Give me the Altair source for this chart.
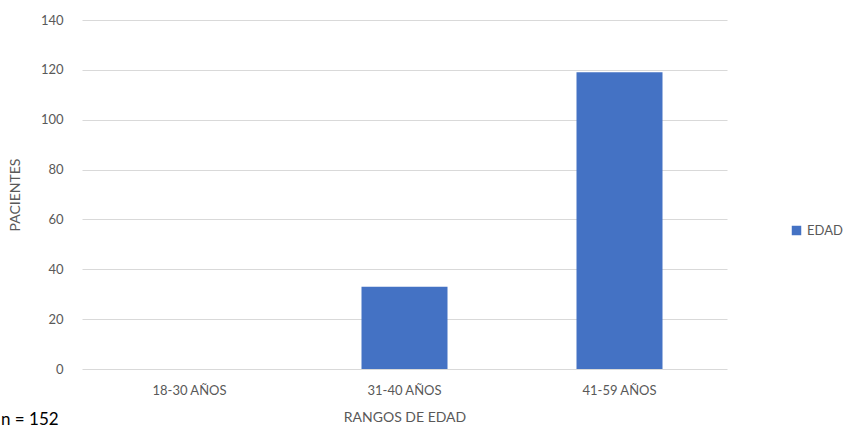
import altair as alt
import pandas as pd

categorias = ["18-30 AÑOS", "31-40 AÑOS", "41-59 AÑOS"]
pacientes = [0, 33, 119]
serie = ["EDAD", "EDAD", "EDAD"]
y_ticks = [0, 20, 40, 60, 80, 100, 120, 140]
nota = ["n = 152"]

df = pd.DataFrame({"rango": categorias, "pacientes": pacientes, "serie": serie})

FONT = "Lato"
GRAY = "#595959"

bars = alt.Chart(df).mark_bar(color="#4472C4").encode(
    x=alt.X(
        "rango:N",
        sort=categorias,
        scale=alt.Scale(paddingInner=0.6, paddingOuter=0.3),
        axis=alt.Axis(
            title="RANGOS DE EDAD",
            labelAngle=0,
            domain=False,
            ticks=False,
            grid=False,
            labelPadding=15,
            labelFontSize=13,
            labelColor=GRAY,
            labelFont=FONT,
            titleFont=FONT,
            titleFontSize=14,
            titleFontWeight="normal",
            titleColor=GRAY,
            titlePadding=13,
        ),
    ),
    y=alt.Y(
        "pacientes:Q",
        scale=alt.Scale(domain=[0, 140]),
        axis=alt.Axis(
            title="PACIENTES",
            values=y_ticks,
            domain=False,
            ticks=False,
            labelPadding=19,
            labelFontSize=13,
            labelColor=GRAY,
            labelFont=FONT,
            gridColor="#d9d9d9",
            titleFont=FONT,
            titleFontSize=14,
            titleFontWeight="normal",
            titleColor=GRAY,
            titlePadding=18,
        ),
    ),
    color=alt.Color(
        "serie:N",
        scale=alt.Scale(range=["#4472C4"]),
        legend=alt.Legend(
            title=None,
            orient="none",
            legendX=708,
            legendY=204,
            symbolType="square",
            symbolSize=90,
            labelFont=FONT,
            labelFontSize=13,
            labelColor=GRAY,
        ),
    ),
)

txt = alt.Chart(pd.DataFrame({"t": nota})).mark_text(
    align="left", baseline="top", font=FONT, fontSize=17, color="#000000"
).encode(text="t:N", x=alt.value(-81), y=alt.value(392))

chart = alt.layer(bars, txt).properties(
    width=645,
    height=349,
    padding={"left": 82, "top": 20, "right": 121, "bottom": 64},
    autosize=alt.AutoSizeParams(type="none"),
    background="white",
).configure_view(strokeWidth=0, stroke="transparent")

chart.save("out.html", embed_options={"renderer": "svg", "actions": False})
